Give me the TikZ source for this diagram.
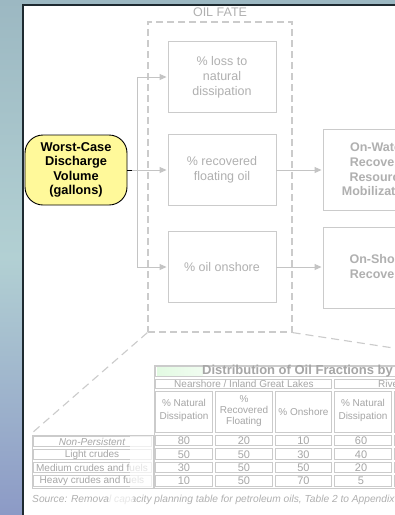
\documentclass[tikz,border=0pt]{standalone}
\usepackage{fontspec}
\setmainfont{Liberation Sans}
\usetikzlibrary{arrows.meta,calc}
\definecolor{bgtop}{HTML}{9CB8C2}
\definecolor{bgmid}{HTML}{B2D0D3}
\definecolor{bgbot}{HTML}{8C9AC6}
\definecolor{panelline}{HTML}{1E2A30}
\definecolor{lg}{HTML}{CBCBCB}
\definecolor{cg}{HTML}{C4C4C4}
\definecolor{tg}{HTML}{B0B0B0}
\definecolor{tt}{HTML}{A6A6A6}
\definecolor{wy}{HTML}{FFF99A}
\definecolor{tgreen}{HTML}{E2FAE2}
\begin{document}
\begin{tikzpicture}[x=1pt,y=-1pt,
  fatebox/.style={draw=lg, line width=0.9pt, minimum width=108pt, minimum height=71pt, inner sep=0pt, align=center, text=tg, font=\fontsize{12.5}{15}\selectfont},
  recbox/.style={fatebox, minimum width=110pt, minimum height=81pt, font=\bfseries\fontsize{12.5}{14.7}\selectfont},
  srcbox/.style={draw=black, line width=0.9pt, fill=wy, rounded corners=18pt, minimum width=102pt, minimum height=70pt, inner sep=0pt, align=center, font=\bfseries\fontsize{12.8}{14.3}\selectfont},
  conn/.style={draw=cg, line width=0.9pt},
  arr/.style={conn, -{Triangle[length=7pt,width=6pt]}, shorten >=1pt},
  fatearea/.style={draw=lg, line width=1.2pt, dash pattern=on 7pt off 4pt, minimum width=144pt, minimum height=310pt, inner sep=0pt},
  callout/.style={draw=lg, line width=1.1pt, dash pattern=on 8pt off 5pt},
  cell/.style={draw=lg, line width=0.7pt},
  ttxt/.style={text=tt, font=\fontsize{10}{12}\selectfont, inner sep=0pt, align=center},
  vtxt/.style={ttxt, font=\fontsize{11}{12}\selectfont},
]
\clip (0,0) rectangle (395,515);
% background and panel
\shade[top color=bgtop, bottom color=bgbot, middle color=bgmid] (0,0) rectangle (395,515);
\fill[white] (23,5) rectangle (400,520);
\draw[panelline, line width=1.5pt] (23,520) -- (23,5) -- (400,5);

% oil fate area
\node[fatearea] (fate) at (220,177) {};
\node[text=tg, font=\fontsize{12.5}{15}\selectfont, inner sep=0pt] (fatelbl) at (220,12) {OIL FATE};

\node[fatebox] (b1) at (222,77) {\% loss to\\natural\\dissipation};
\node[fatebox] (b2) at (222,170) {\% recovered\\floating oil};
\node[fatebox] (b3) at (222,267) {\% oil onshore};
\node[recbox] (r1) at (378,169.5) {On-Water\\Recovery\\Resource\\Mobilization};
\node[recbox] (r2) at (378,267.5) {On-Shore\\Recovery};

\node[srcbox] (wc) at (76,170) {Worst-Case\\Discharge\\Volume\\(gallons)};

\coordinate (s) at (132,170);
\coordinate (j) at (137,170);
\draw[line width=0.9pt] (wc.east) -- (s);
\draw[conn] (s) -- (j);
\draw[arr] (j) -- (b2.west);
\draw[arr] (j) |- (b1.west);
\draw[arr] (j) |- (b3.west);
\draw[arr] (b2.east) -- (b2.east -| r1.west);
\draw[arr] (b3.east) -- (b3.east -| r2.west);

% callout
\coordinate (cl) at (32,433);
\coordinate (cr) at (400,349);
\draw[callout] (fate.south west) -- (cl);
\draw[callout] (fate.south east) -- (cr);

% main table
\shade[left color=tgreen, right color=tgreen!50] (157,367.2) rectangle (203,376);
\draw[cell] (154,365) rectangle (470,488);
\draw[cell] (155.2,366.2) rectangle (470,376.8);
\draw[cell] (155.2,379.2) rectangle (331.8,388.8);
\draw[cell] (334.2,379.2) rectangle (470,388.8);
\foreach \xa/\xb in {154/214,214/274,274/333,333/393,393/453}
  \foreach \ya/\yb in {390/434,434/447,447/461,461/474,474/488}
    \draw[cell] (\xa+1.2,\ya+1.2) rectangle (\xb-1.2,\yb-1.2);
% row label table
\draw[cell] (32,435) rectangle (153,488);
\foreach \ya/\yb in {435/448,448/461,461/474,474/488}
  \draw[cell] (33.2,\ya+1.2) rectangle (151.8,\yb-1.2);

\node[ttxt, font=\bfseries\fontsize{13}{14}\selectfont, anchor=west] (ttl) at (202,371.5) {Distribution of Oil Fractions by};
\node[ttxt] (g1) at (244,384) {Nearshore / Inland Great Lakes};
\node[ttxt, anchor=west] (g2) at (378,384) {Rivers};
\node[ttxt, font=\fontsize{10}{12.5}\selectfont] (h1) at (184,410.5) {\% Natural\\Dissipation};
\node[ttxt, font=\fontsize{10}{11}\selectfont] (h2) at (244,411) {\%\\Recovered\\Floating};
\node[ttxt] (h3) at (303.5,412) {\% Onshore};
\node[ttxt, font=\fontsize{10}{12.5}\selectfont] (h4) at (363,410.5) {\% Natural\\Dissipation};

\foreach \r/\y/\a/\b/\c/\d in {1/441/80/20/10/60, 2/454.5/50/50/30/40, 3/467.5/30/50/50/20, 4/481/10/50/70/5} {
  \node[vtxt] (va\r) at (184,\y) {\a};
  \node[vtxt] (vb\r) at (244,\y) {\b};
  \node[vtxt] (vc\r) at (303.5,\y) {\c};
  \node[vtxt] (vd\r) at (361,\y) {\d};
}
\node[ttxt] (l1) at (92,441.5) {\itshape Non-Persistent};
\node[ttxt] (l2) at (92,454.5) {Light crudes};
\node[ttxt] (l3) at (92,467.5) {Medium crudes and fuels};
\node[ttxt] (l4) at (92,481) {Heavy crudes and fuels};

\node[ttxt, text=tg, font=\itshape\fontsize{10.2}{12}\selectfont, anchor=west] (src) at (32,500) {Source: Removal capacity planning table for petroleum oils, Table 2 to Appendix};

% faded overlays
\fill[white, opacity=0.7] (129.5,436) rectangle (152.5,487);
\fill[white, opacity=0.7] (109,493) rectangle (133,507);
\end{tikzpicture}
\end{document}
